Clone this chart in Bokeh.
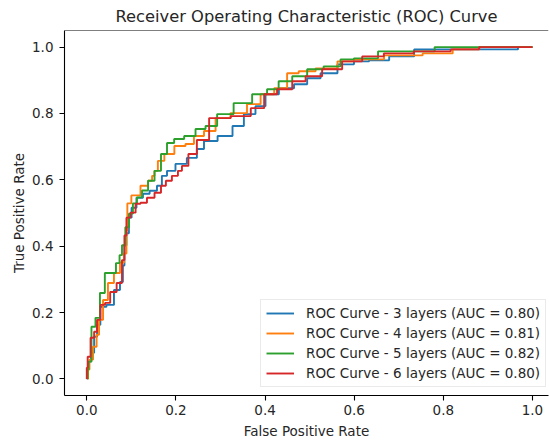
from bokeh.plotting import figure
from bokeh.models import Range1d, Span, Legend, LegendItem, FixedTicker, PrintfTickFormatter
from bokeh.embed import file_html
from bokeh.resources import INLINE

title_text = "Receiver Operating Characteristic (ROC) Curve"
x_label = "False Positive Rate"
y_label = "True Positive Rate"
tick_values = [0.0, 0.2, 0.4, 0.6, 0.8, 1.0]

labels = [
    "ROC Curve - 3 layers (AUC = 0.80)",
    "ROC Curve - 4 layers (AUC = 0.81)",
    "ROC Curve - 5 layers (AUC = 0.82)",
    "ROC Curve - 6 layers (AUC = 0.80)",
]
colors = ["#1f77b4", "#ff7f0e", "#2ca02c", "#d62728"]

fpr_3 = [0.0, 0.002, 0.006, 0.013, 0.020, 0.026, 0.035, 0.053, 0.069, 0.080,
         0.082, 0.087, 0.091, 0.098, 0.103, 0.120, 0.132, 0.150, 0.165, 0.172,
         0.188, 0.210, 0.239, 0.255, 0.271, 0.316, 0.338, 0.367, 0.390, 0.412,
         0.450, 0.480, 0.509, 0.540, 0.585, 0.614, 0.653, 0.704, 0.765, 0.935, 1.0]
tpr_3 = [0.0, 0.028, 0.052, 0.079, 0.127, 0.163, 0.217, 0.223, 0.268, 0.292,
         0.342, 0.402, 0.439, 0.486, 0.516, 0.546, 0.558, 0.567, 0.582, 0.612,
         0.627, 0.648, 0.666, 0.693, 0.717, 0.732, 0.762, 0.798, 0.822, 0.858,
         0.876, 0.888, 0.906, 0.921, 0.948, 0.957, 0.960, 0.972, 0.993, 0.993, 1.0]

fpr_4 = [0.002, 0.004, 0.008, 0.020, 0.024, 0.031, 0.042, 0.053, 0.069, 0.080,
         0.087, 0.091, 0.091, 0.109, 0.132, 0.143, 0.150, 0.154, 0.165, 0.183,
         0.210, 0.233, 0.248, 0.278, 0.300, 0.345, 0.374, 0.406, 0.435, 0.464,
         0.487, 0.540, 0.585, 0.614, 0.720, 0.787, 0.855, 0.906, 1.0]
tpr_4 = [0.0, 0.028, 0.058, 0.097, 0.133, 0.178, 0.238, 0.289, 0.319, 0.351,
         0.378, 0.447, 0.529, 0.553, 0.582, 0.597, 0.612, 0.627, 0.657, 0.678,
         0.702, 0.708, 0.732, 0.747, 0.786, 0.801, 0.828, 0.858, 0.876, 0.921,
         0.927, 0.936, 0.957, 0.963, 0.975, 0.981, 0.993, 1.0, 1.0]

fpr_5 = [0.002, 0.002, 0.006, 0.015, 0.024, 0.035, 0.046, 0.060, 0.071, 0.076,
         0.082, 0.091, 0.098, 0.109, 0.116, 0.132, 0.143, 0.161, 0.172, 0.188,
         0.204, 0.233, 0.255, 0.278, 0.307, 0.352, 0.390, 0.419, 0.442, 0.480,
         0.509, 0.554, 0.585, 0.614, 0.693, 0.868, 1.0]
tpr_5 = [0.0, 0.028, 0.052, 0.157, 0.184, 0.259, 0.319, 0.319, 0.349, 0.373,
         0.403, 0.457, 0.498, 0.529, 0.547, 0.568, 0.597, 0.627, 0.678, 0.711,
         0.723, 0.732, 0.753, 0.762, 0.798, 0.831, 0.858, 0.873, 0.897, 0.912,
         0.933, 0.942, 0.963, 0.966, 0.987, 1.0, 1.0]

fpr_6 = [0.0, 0.0, 0.004, 0.013, 0.020, 0.026, 0.035, 0.047, 0.058, 0.076,
         0.082, 0.087, 0.091, 0.105, 0.114, 0.127, 0.143, 0.161, 0.172, 0.183,
         0.199, 0.210, 0.217, 0.239, 0.255, 0.294, 0.352, 0.384, 0.412, 0.442,
         0.480, 0.502, 0.554, 0.592, 0.644, 0.689, 0.778, 0.855, 0.906, 1.0]
tpr_6 = [0.0, 0.034, 0.067, 0.124, 0.142, 0.178, 0.223, 0.229, 0.262, 0.289,
         0.358, 0.432, 0.486, 0.501, 0.528, 0.531, 0.546, 0.561, 0.582, 0.597,
         0.612, 0.627, 0.642, 0.678, 0.720, 0.786, 0.792, 0.816, 0.858, 0.873,
         0.897, 0.912, 0.933, 0.957, 0.972, 0.981, 0.987, 0.993, 1.0, 1.0]

series = [(fpr_3, tpr_3), (fpr_4, tpr_4), (fpr_5, tpr_5), (fpr_6, tpr_6)]

FONT = "DejaVu Sans"
TXT = "#262626"

p = figure(width=549, height=441, output_backend="svg", toolbar_location=None,
           x_range=Range1d(-0.05, 1.036), y_range=Range1d(-0.05, 1.05),
           min_border_left=64, min_border_right=1, min_border_top=30, min_border_bottom=44,
           title=title_text)
p.outline_line_color = None
p.background_fill_color = "white"
p.border_fill_color = "white"
p.xgrid.visible = False
p.ygrid.visible = False

p.title.text_font = FONT
p.title.text_font_size = "16.3px"
p.title.text_font_style = "normal"
p.title.text_color = TXT
p.title.align = "center"
p.title.standoff = 9

for ax in (p.xaxis[0], p.yaxis[0]):
    ax.ticker = FixedTicker(ticks=tick_values)
    ax.formatter = PrintfTickFormatter(format="%.1f")
    ax.axis_line_color = "black"
    ax.axis_line_width = 1.1
    ax.major_tick_line_color = "black"
    ax.major_tick_line_width = 1.1
    ax.major_tick_out = 5
    ax.major_tick_in = 0
    ax.minor_tick_line_color = None
    ax.major_label_text_font = FONT
    ax.major_label_text_font_size = "13.5px"
    ax.major_label_text_color = TXT
    ax.axis_label_text_font = FONT
    ax.axis_label_text_font_size = "13.5px"
    ax.axis_label_text_font_style = "normal"
    ax.axis_label_text_color = TXT

p.xaxis[0].axis_label = x_label
p.yaxis[0].axis_label = y_label
p.xaxis[0].major_label_standoff = 4
p.xaxis[0].axis_label_standoff = 5
p.yaxis[0].major_label_standoff = 6
p.yaxis[0].axis_label_standoff = 2

p.add_layout(Span(location=1.05, dimension="width", line_color="black", line_width=1.1))

items = []
for (xs, ys), c, lab in zip(series, colors, labels):
    r = p.step(xs, ys, mode="center", line_color=c, line_width=1.9)
    items.append(LegendItem(label=lab, renderers=[r]))

legend = Legend(items=items, location=(196, 8))
legend.margin = 0
legend.padding = 5
legend.spacing = 4
legend.glyph_width = 28
legend.glyph_height = 16
legend.label_height = 16
legend.label_standoff = 12
legend.label_text_font = FONT
legend.label_text_font_size = "13.5px"
legend.label_text_color = TXT
legend.border_line_color = "#d6d6d6"
legend.border_line_width = 1
legend.background_fill_color = "white"
legend.background_fill_alpha = 0.8
p.add_layout(legend)

open("out.html", "w").write(file_html(p, INLINE))
